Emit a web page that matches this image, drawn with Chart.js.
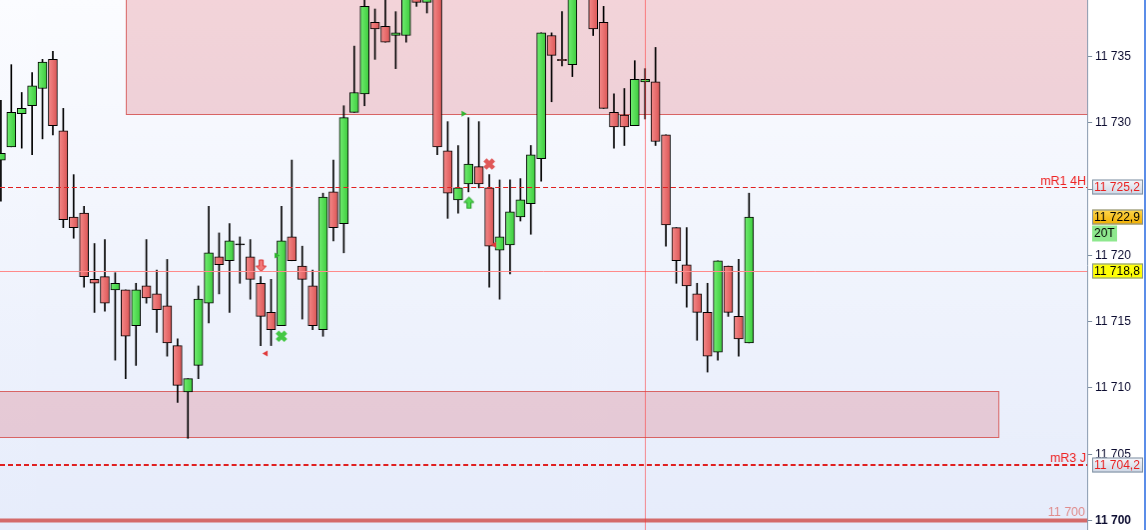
<!DOCTYPE html>
<html lang="en">
<head>
<meta charset="UTF-8">
<title>Candles 11 7xx</title>
<style>
    body { margin: 0; background: #ffffff; }
    #wrap { width: 1148px; height: 530px; }
    canvas { display: block; border-right: 2px solid #5b8de8; }
</style>
<script src="https://cdn.jsdelivr.net/npm/chart.js"></script>
</head>
<body>
<div id="wrap"><canvas id="priceChart" width="1146" height="530"></canvas></div>
<script>
// OHLC per bar (index = bar number), null = bar fully above the visible range
const opens  = [11727.2,11728.2,11730.7,11731.3,11732.6,11734.8,11729.4,11722.9,11723.2,11718.2,
                11718.4,11717.4,11717.4,11714.7,11717.7,11717.1,11716.2,11713.2,11709.7,11711.7,
                11716.4,11719.9,11719.6,11720.8,11719.9,11717.9,11715.7,11714.7,11721.4,11719.2,
                11717.7,11714.4,11724.8,11722.4,11730.8,11732.2,11737.6,11737.3,11736.6,11736.6,
                11740.5,11739.1,11740.5,11727.9,11724.2,11725.4,11726.7,11725.1,11720.4,11720.8,
                11722.9,11723.9,11727.3,11736.6,11734.8,11734.4,null,11740.0,11737.6,11730.8,
                11730.6,11729.8,11733.1,11733.1,11729.1,11722.1,11719.3,11717.1,11715.7,11712.7,
                11719.2,11715.4,11713.4];
const highs  = [11731.7,11734.4,11732.3,11733.8,11734.8,11735.4,11731.1,11726.1,11723.7,11720.9,
                11721.2,11718.7,11717.4,11717.9,11721.2,11718.9,11719.7,11713.7,11710.7,11717.7,
                11723.7,11721.7,11722.4,11721.4,11721.2,11718.4,11718.2,11723.7,11727.2,11720.7,
                11718.9,11724.7,11727.2,11731.3,11735.8,11739.7,11738.6,11740.0,11738.4,11741.0,
                11741.0,11740.5,11741.0,11730.1,11728.3,11730.4,11730.1,11726.1,11725.7,11725.7,
                11725.8,11728.3,11736.8,11736.8,11738.4,11740.5,null,11740.5,11738.8,11732.2,
                11732.6,11734.7,11734.1,11735.7,11729.1,11722.1,11722.1,11717.9,11717.9,11719.6,
                11719.2,11719.7,11724.7];
const lows   = [11724.1,11728.2,11728.1,11727.6,11728.8,11729.1,11722.1,11721.3,11717.6,11715.7,
                11715.8,11712.1,11710.7,11711.7,11716.4,11714.2,11712.4,11708.9,11706.2,11710.7,
                11714.9,11717.1,11715.7,11717.9,11716.7,11713.2,11713.2,11714.7,11719.6,11715.2,
                11714.4,11713.9,11721.1,11720.2,11730.8,11731.3,11734.8,11736.1,11734.1,11736.1,
                11738.8,11738.3,11727.6,11722.8,11723.2,11724.8,11725.1,11717.6,11716.7,11718.6,
                11722.6,11721.6,11725.6,11731.6,11734.3,11733.5,null,11736.6,11731.1,11728.1,
                11728.3,11729.8,11730.3,11728.3,11720.7,11717.9,11716.1,11713.6,11711.2,11712.1,
                11715.4,11712.4,11713.4];
const closes = [11727.7,11730.8,11731.1,11732.8,11734.6,11729.8,11722.7,11722.1,11718.4,11717.9,
                11716.4,11717.9,11713.9,11717.4,11716.8,11715.9,11713.4,11710.2,11710.7,11716.7,
                11720.2,11719.3,11721.1,11720.8,11718.2,11715.4,11714.4,11721.1,11719.6,11718.2,
                11714.7,11724.4,11722.1,11730.4,11732.3,11738.8,11737.1,11736.1,11736.8,11740.5,
                11739.1,11740.0,11728.2,11724.7,11725.1,11726.9,11725.4,11720.7,11721.4,11723.3,
                11724.2,11727.6,11736.8,11735.1,11734.7,11740.0,null,11737.1,11731.1,11729.7,
                11729.7,11733.3,11733.3,11728.6,11722.3,11719.6,11717.7,11715.7,11712.4,11719.6,
                11715.7,11713.7,11722.9];

// signal markers (bar position, price)
const rightTriX = [26.5, 44.5];   const rightTriY = [11720.0, 11730.7];
const leftTriX  = [25.5, 47.5];   const leftTriY  = [11712.6, 11720.8];
const downArrX  = [25];           const downArrY  = [11719.2];
const upArrX    = [45];           const upArrY    = [11724.0];
const buyCrossX = [27];           const buyCrossY = [11713.9];
const sellCrossX = [47];          const sellCrossY = [11726.9];

// zones: [from bar, to bar, low, high]
const zoneUpper = [12, 200, 11730.7, 11750];
const zoneLower = [-10, 96, 11706.3, 11709.8];

// levels
const levelR1 = 11725.2;   const levelR1Name = 'mR1 4H';
const levelR3 = 11704.2;   const levelR3Name = 'mR3 J';
const levelRound = 11700;
const levelMark = 11718.8;
const lastPrice = 11722.9; const timerText = '20T';
const cursorBar = 62;

const yTicks = [11700, 11705, 11710, 11715, 11720, 11725, 11730, 11735];

function fmt(v, dec) {
    const s = v.toFixed(dec).split('.');
    const int = s[0].replace(/\B(?=(\d{3})+(?!\d))/g, ' ');
    return s.length > 1 ? int + ',' + s[1] : int;
}

const bodies = [], wicks = [], bodyKind = [];
opens.forEach((o, i) => {
    if (o === null) return;
    bodies.push({ x: i, y: [o, closes[i]] });
    wicks.push({ x: i, y: [lows[i], highs[i]] });
    bodyKind.push(closes[i] > o ? 1 : closes[i] < o ? -1 : 0);
});
const pts = (xs, ys) => xs.map((x, i) => ({ x: x, y: ys[i] }));

// body fill: light on the left, darker on the right
function bodyFill(c) {
    const kind = bodyKind[c.dataIndex];
    if (kind === 0) return '#000000';
    const solid = kind > 0 ? '#55dd55' : '#ec6e6e';
    if (!c.raw || !c.chart.scales.x) return solid;
    const px = c.chart.scales.x.getPixelForValue(c.raw.x);
    if (!isFinite(px)) return solid;
    const g = c.chart.ctx.createLinearGradient(px - 4.5, 0, px + 4.5, 0);
    if (kind > 0) { g.addColorStop(0, '#72ee72'); g.addColorStop(1, '#3dcc3d'); }
    else { g.addColorStop(0, '#f58a8a'); g.addColorStop(1, '#dc5656'); }
    return g;
}

function arrowImage(up, fill, stroke) {
    const c = document.createElement('canvas');
    c.width = 12; c.height = 14;
    const g = c.getContext('2d');
    const shape = [[4, 1], [8, 1], [8, 7], [11, 7], [6, 12.5], [1, 7], [4, 7]];
    g.beginPath();
    shape.forEach((p, k) => {
        const yy = up ? 14 - p[1] : p[1];
        k ? g.lineTo(p[0] + 0.5, yy) : g.moveTo(p[0] + 0.5, yy);
    });
    g.closePath();
    g.fillStyle = fill; g.fill();
    g.strokeStyle = stroke; g.lineWidth = 1; g.stroke();
    return c;
}

const overlay = {
    id: 'overlay',
    beforeDraw(chart) {
        const { ctx, chartArea: a } = chart;
        ctx.save();
        ctx.fillStyle = '#ffffff';
        ctx.fillRect(0, 0, chart.width, chart.height);
        const g = ctx.createLinearGradient(0, a.top, 0, a.bottom);
        g.addColorStop(0, '#fbfcff');
        g.addColorStop(1, '#e6ecfb');
        ctx.fillStyle = g;
        ctx.fillRect(a.left, a.top, a.right - a.left, a.bottom - a.top);
        ctx.restore();
    },
    beforeDatasetsDraw(chart) {
        const { ctx, chartArea: a, scales: { x, y } } = chart;
        ctx.save();
        ctx.beginPath();
        ctx.rect(a.left, a.top, a.right - a.left, a.bottom - a.top);
        ctx.clip();
        [zoneUpper, zoneLower].forEach(z => {
            const x0 = Math.round(x.getPixelForValue(z[0])) + 0.5;
            const x1 = Math.round(x.getPixelForValue(z[1])) + 0.5;
            const y0 = Math.round(y.getPixelForValue(z[3])) + 0.5;
            const y1 = Math.round(y.getPixelForValue(z[2])) + 0.5;
            ctx.fillStyle = 'rgba(215, 70, 80, 0.22)';
            ctx.fillRect(x0, y0, x1 - x0, y1 - y0);
            ctx.strokeStyle = '#d86464';
            ctx.lineWidth = 1;
            ctx.strokeRect(x0, y0, x1 - x0, y1 - y0);
        });
        // round number level
        const yr = y.getPixelForValue(levelRound);
        ctx.strokeStyle = '#d46a6a';
        ctx.lineWidth = 4;
        ctx.beginPath(); ctx.moveTo(a.left, yr); ctx.lineTo(a.right, yr); ctx.stroke();
        ctx.restore();
    },
    afterDatasetsDraw(chart) {
        const { ctx, chartArea: a, scales: { x, y } } = chart;
        ctx.save();
        ctx.beginPath();
        ctx.rect(a.left, a.top, a.right - a.left, a.bottom - a.top);
        ctx.clip();
        // mark line + cursor
        ctx.lineWidth = 1;
        ctx.strokeStyle = '#ff8a8a';
        const ym = Math.round(y.getPixelForValue(levelMark)) + 0.5;
        ctx.beginPath(); ctx.moveTo(a.left, ym); ctx.lineTo(a.right, ym); ctx.stroke();
        ctx.strokeStyle = 'rgba(255, 50, 50, 0.55)';
        const xc = Math.round(x.getPixelForValue(cursorBar)) + 0.5;
        ctx.beginPath(); ctx.moveTo(xc, a.top); ctx.lineTo(xc, a.bottom); ctx.stroke();
        // R1 dashed
        ctx.strokeStyle = '#e02020';
        ctx.setLineDash([5, 3]);
        const y1 = Math.round(y.getPixelForValue(levelR1)) + 0.5;
        ctx.beginPath(); ctx.moveTo(a.left, y1); ctx.lineTo(a.right, y1); ctx.stroke();
        // R3 dashed thick
        ctx.lineWidth = 2;
        ctx.setLineDash([5, 3]);
        const y3 = Math.round(y.getPixelForValue(levelR3));
        ctx.beginPath(); ctx.moveTo(a.left, y3); ctx.lineTo(a.right, y3); ctx.stroke();
        ctx.setLineDash([]);
        // level names
        ctx.font = '12.5px "Liberation Sans", Arial, sans-serif';
        ctx.textAlign = 'right';
        ctx.textBaseline = 'alphabetic';
        ctx.fillStyle = '#ee2222';
        ctx.fillText(levelR1Name, a.right - 1, y1 - 3);
        ctx.fillText(levelR3Name, a.right - 1, y3 - 3);
        ctx.fillStyle = '#e08c8c';
        ctx.fillText(fmt(levelRound, 0), a.right - 2, y.getPixelForValue(levelRound) - 4);
        ctx.restore();
    },
    afterDraw(chart) {
        const { ctx, chartArea: a, scales: { y } } = chart;
        const bx = a.right + 5, bw = chart.width - 1 - bx, bh = 15;
        const box = (v, text, fill0, fill1, color) => {
            const cy = Math.round(y.getPixelForValue(v));
            const top = cy - 7.5;
            const g = ctx.createLinearGradient(0, top, 0, top + bh);
            g.addColorStop(0, fill0); g.addColorStop(1, fill1);
            ctx.fillStyle = g;
            ctx.fillRect(bx, top, bw, bh);
            ctx.strokeStyle = '#7d8ea0';
            ctx.lineWidth = 1;
            ctx.strokeRect(bx + 0.5, top + 0.5, bw - 1, bh - 1);
            ctx.fillStyle = color;
            ctx.fillText(text, bx + 2, cy + 0.5);
        };
        ctx.save();
        ctx.font = '12px "Liberation Sans", Arial, sans-serif';
        ctx.textAlign = 'left';
        ctx.textBaseline = 'middle';
        box(levelR1, fmt(levelR1, 1), '#f6f8fc', '#cdd6e4', '#e82020');
        box(lastPrice, fmt(lastPrice, 1), '#ffd84e', '#f0ae00', '#000000');
        // timer just under last price
        const ty = Math.round(y.getPixelForValue(lastPrice)) + 8.5;
        ctx.fillStyle = '#8ee88e';
        ctx.fillRect(bx, ty, 25, 16);
        ctx.fillStyle = '#000000';
        ctx.fillText(timerText, bx + 2, ty + 8.5);
        box(levelMark, fmt(levelMark, 1), '#ffff10', '#ffff00', '#000000');
        box(levelR3, fmt(levelR3, 1), '#f6f8fc', '#cdd6e4', '#e82020');
        ctx.restore();
    }
};

const ctx = document.getElementById('priceChart').getContext('2d');
const chart = new Chart(ctx, {
    type: 'bar',
    data: {
        datasets: [
            {
                type: 'scatter', order: 0, data: pts(rightTriX, rightTriY),
                pointStyle: 'triangle', rotation: 90, radius: 3.5,
                backgroundColor: '#2fb52f', borderColor: '#2fb52f', borderWidth: 0
            },
            {
                type: 'scatter', order: 0, data: pts(leftTriX, leftTriY),
                pointStyle: 'triangle', rotation: -90, radius: 3.5,
                backgroundColor: '#e03a3a', borderColor: '#e03a3a', borderWidth: 0
            },
            {
                type: 'scatter', order: 0, data: pts(downArrX, downArrY),
                pointStyle: arrowImage(false, '#f27a7a', '#d82c2c')
            },
            {
                type: 'scatter', order: 0, data: pts(upArrX, upArrY),
                pointStyle: arrowImage(true, '#55dd55', '#1f9a1f')
            },
            {
                type: 'scatter', order: 0, data: pts(buyCrossX, buyCrossY),
                pointStyle: 'crossRot', radius: 6, borderWidth: 4.5, borderColor: '#44c844'
            },
            {
                type: 'scatter', order: 0, data: pts(sellCrossX, sellCrossY),
                pointStyle: 'crossRot', radius: 6, borderWidth: 4.5, borderColor: '#e05858'
            },
            {
                order: 1, data: bodies, grouped: false,
                backgroundColor: bodyFill, borderColor: '#000000', borderWidth: 1,
                borderSkipped: false, barThickness: 9, minBarLength: 1
            },
            {
                order: 2, data: wicks, grouped: false,
                backgroundColor: '#000000', borderWidth: 0, barThickness: 1
            }
        ]
    },
    options: {
        responsive: false,
        animation: false,
        events: [],
        layout: { padding: 0, autoPadding: false },
        plugins: { legend: { display: false }, tooltip: { enabled: false } },
        scales: {
            x: {
                type: 'linear', display: false, offset: false,
                min: -0.0865, max: 104.54
            },
            y: {
                position: 'right',
                min: 11699.28, max: 11739.28,
                afterFit: s => { s.width = 57; s.paddingTop = 0; s.paddingBottom = 0; },
                afterBuildTicks: s => { s.ticks = yTicks.map(v => ({ value: v })); },
                grid: { drawOnChartArea: false, drawTicks: true, tickLength: 5, color: '#7d8ea0' },
                border: { color: '#8a9bb0' },
                ticks: {
                    padding: 3,
                    color: '#0c0c30',
                    font: c => ({ family: '"Liberation Sans", Arial, sans-serif', size: 12,
                                  weight: c.tick && c.tick.value === levelRound ? 'bold' : 'normal' }),
                    callback: v => fmt(v, 0)
                }
            }
        }
    },
    plugins: [overlay]
});
</script>
</body>
</html>
